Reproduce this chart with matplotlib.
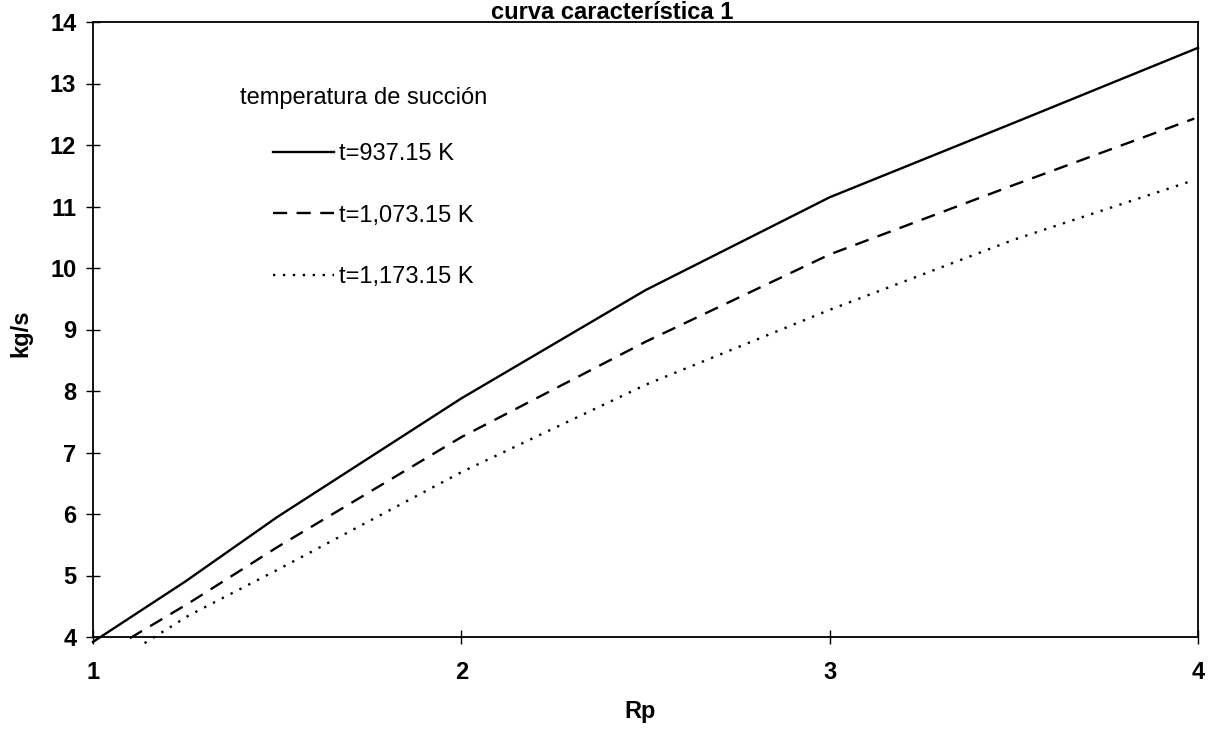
import matplotlib
matplotlib.use("Agg")
import matplotlib.pyplot as plt

plt.rcParams['font.family'] = ['Liberation Sans', 'DejaVu Sans']

# datos
rp_1 = [1.0, 1.25, 1.5, 2.0, 2.5, 3.0, 3.5, 4.0]
flujo_1 = [3.92, 4.9, 5.95, 7.88, 9.64, 11.15, 12.36, 13.58]

rp_2 = [1.1, 1.26, 1.5, 2.0, 2.5, 3.0, 3.5, 3.99]
flujo_2 = [3.98, 4.55, 5.46, 7.25, 8.8, 10.22, 11.35, 12.43]

rp_3 = [1.14, 1.26, 1.5, 2.0, 2.5, 3.0, 3.5, 3.99]
flujo_3 = [3.9, 4.35, 5.09, 6.68, 8.1, 9.32, 10.46, 11.43]

etiquetas = ["t=937.15 K", "t=1,073.15 K", "t=1,173.15 K"]
x_ticks = [1, 2, 3, 4]
y_ticks = [4, 5, 6, 7, 8, 9, 10, 11, 12, 13, 14]

W, H = 1210, 739
fig = plt.figure(figsize=(W / 100, H / 100), dpi=100)
ax = fig.add_axes([93 / W, 1 - 637 / H, (1198 - 93) / W, (637 - 22) / H])

ax.plot(rp_1, flujo_1, "k-", lw=1.7, label=etiquetas[0], clip_on=False)
ax.plot(rp_2, flujo_2, "k", lw=1.7, ls=(0, (6, 4)), label=etiquetas[1], clip_on=False)
ax.plot(rp_3, flujo_3, "k", lw=1.7, ls=(0, (1, 3.2)), label=etiquetas[2], clip_on=False)

ax.set_xlim(1, 4)
ax.set_ylim(4, 14)
ax.set_xticks(x_ticks)
ax.set_yticks(y_ticks)
ax.tick_params(direction="inout", length=10, width=1, labelsize=17, pad=7)
ax.tick_params(axis="x", pad=12)
for lab in ax.get_xticklabels() + ax.get_yticklabels():
    lab.set_fontweight("bold")
for s in ax.spines.values():
    s.set_linewidth(1.3)

ax.set_xlabel("Rp", fontsize=17, fontweight="bold")
ax.xaxis.set_label_coords((640 - 93) / 1105, -(700 - 637) / 615)
ax.set_ylabel("kg/s", fontsize=17, fontweight="bold")
ax.yaxis.set_label_coords(-(93 - 32) / 1105, (637 - 333) / 615)
fig.text(612 / W, 1 - 1 / H, "curva característica 1", ha="center", va="top",
         fontsize=17, fontweight="bold")

fig.text(240 / W, 1 - 98 / H, "temperatura de succión", ha="left", va="center", fontsize=17)
ax.legend(loc="upper left", bbox_to_anchor=(273 / W, 1 - 143 / H),
          bbox_transform=fig.transFigure, frameon=False, fontsize=17,
          handlelength=2.6, handletextpad=0.2, labelspacing=1.68,
          borderpad=0, borderaxespad=0)

fig.savefig("out.png", dpi=100)
